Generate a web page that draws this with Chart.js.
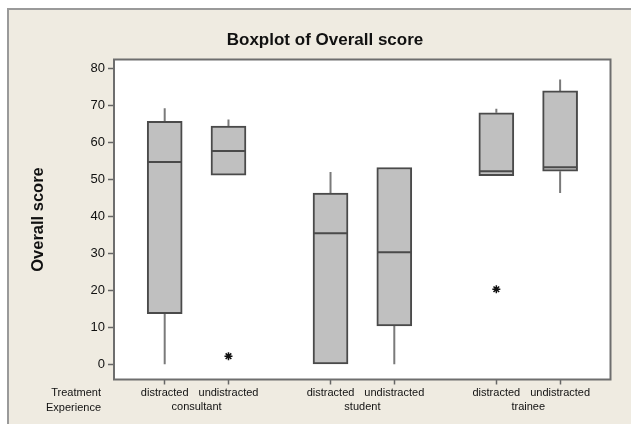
<!DOCTYPE html>
<html><head><meta charset="utf-8">
<script src="https://cdn.jsdelivr.net/npm/chart.js@4.4.1/dist/chart.umd.min.js"></script>
<style>html,body{margin:0;padding:0;background:#fff}#wrap{width:631px;height:424px}</style>
</head><body><div id="wrap"><canvas id="c" width="631" height="424"></canvas></div>
<script>
// ---- data ----
const experiences = ['consultant', 'student', 'trainee'];
const treatments = ['distracted', 'undistracted'];
const whiskerLow  = [0,    51.1, 0,    0,    51.0, 46.3];
const q1          = [13.7, 51.1, 0,    10.4, 51.0, 52.2];
const median      = [54.7, 57.7, 35.4, 30.3, 52.2, 53.3];
const q3          = [65.7, 64.4, 46.3, 53.2, 68.0, 73.9];
const whiskerHigh = [69.2, 66.2, 52.0, 53.2, 69.1, 77.0];
const outlierCat  = [1, 4];
const outlierVal  = [2.2, 20.3];
const yTicks = [0, 10, 20, 30, 40, 50, 60, 70, 80];

// ---- layout helpers ----
const FONT = "'Liberation Sans', Arial, sans-serif";
const GROUP_STRIDE = 2.6;
const nCat = experiences.length * treatments.length;
const pos = i => 1 + Math.floor(i / treatments.length) * GROUP_STRIDE + (i % treatments.length);
const catIdx = Array.from({length: nCat}, (_, i) => i);
const positions = catIdx.map(pos);
const treatLabels = catIdx.map(i => treatments[i % treatments.length]);
const groupCenters = experiences.map((_, g) => (pos(g * 2) + pos(g * 2 + 1)) / 2);
const X_MIN = 0.205, X_MAX = 7.99;

const boxData = catIdx.map(i => ({x: positions[i], y: [q1[i], q3[i]]}));
const medData = catIdx.map(i => ({x: positions[i], y: median[i]}));
const whiskData = [];
catIdx.forEach(i => {
  if (whiskerHigh[i] > q3[i]) whiskData.push({x: positions[i], y: q3[i]}, {x: positions[i], y: whiskerHigh[i]}, {x: positions[i], y: null});
  if (whiskerLow[i] < q1[i]) whiskData.push({x: positions[i], y: whiskerLow[i]}, {x: positions[i], y: q1[i]}, {x: positions[i], y: null});
});
const outData = outlierCat.map((c, k) => ({x: positions[c], y: outlierVal[k]}));

const bgPlugin = {
  id: 'bg',
  beforeDraw(chart) {
    const ctx = chart.ctx, a = chart.chartArea;
    ctx.save();
    ctx.fillStyle = '#ffffff';
    ctx.fillRect(0, 0, chart.width, chart.height);
    ctx.fillStyle = '#efebe1';
    ctx.fillRect(8, 9, chart.width - 8, chart.height - 9);
    ctx.strokeStyle = '#9a9a9a';
    ctx.lineWidth = 2;
    ctx.beginPath();
    ctx.moveTo(8, chart.height); ctx.lineTo(8, 9); ctx.lineTo(chart.width, 9);
    ctx.stroke();
    ctx.fillStyle = '#ffffff';
    ctx.fillRect(a.left, a.top, a.right - a.left, a.bottom - a.top);
    ctx.restore();
  },
  afterDraw(chart) {
    const ctx = chart.ctx, a = chart.chartArea;
    ctx.save();
    ctx.strokeStyle = '#6e6e6e';
    ctx.lineWidth = 2;
    ctx.strokeRect(a.left, a.top, a.right - a.left, a.bottom - a.top);
    ctx.fillStyle = '#111';
    ctx.font = '11px ' + FONT;
    ctx.textAlign = 'right';
    ctx.textBaseline = 'middle';
    ctx.fillText('Treatment', a.left - 13, a.bottom + 13);
    ctx.fillText('Experience', a.left - 13, a.bottom + 28);
    ctx.restore();
  }
};

new Chart(document.getElementById('c'), {
  type: 'bar',
  data: {
    datasets: [
      {type: 'line', data: whiskData, borderColor: '#7a7a7a', borderWidth: 2, pointRadius: 0, spanGaps: false, order: 3, xAxisID: 'x', yAxisID: 'y'},
      {type: 'bar', data: boxData, backgroundColor: '#c0c0c0', borderColor: '#4a4a4a', borderWidth: 2, borderSkipped: false, barThickness: 35, grouped: false, order: 2, xAxisID: 'x', yAxisID: 'y'},
      {type: 'scatter', data: medData, pointStyle: 'line', pointRadius: 17, pointHoverRadius: 17, pointBorderWidth: 2, pointBorderColor: '#4a4a4a', order: 1, xAxisID: 'x', yAxisID: 'y'},
      {type: 'scatter', data: outData, pointStyle: 'star', pointRadius: 4, pointHoverRadius: 4, pointBorderWidth: 1.5, pointBorderColor: '#111', order: 0, xAxisID: 'x', yAxisID: 'y'}
    ]
  },
  options: {
    responsive: false,
    devicePixelRatio: 1,
    animation: false,
    events: [],
    layout: {padding: {left: 39.5, right: 20.5, top: 0, bottom: 10}},
    plugins: {
      legend: {display: false},
      tooltip: {enabled: false},
      title: {display: true, text: 'Boxplot of Overall score', color: '#111',
        font: {family: FONT, size: 17, weight: 'bold'}, padding: {top: 30, bottom: 9.1}}
    },
    scales: {
      x: {
        type: 'linear', position: 'bottom', min: X_MIN, max: X_MAX, offset: false, weight: 0,
        afterBuildTicks: s => { s.ticks = positions.map(v => ({value: v})); },
        ticks: {callback: (v, i) => treatLabels[i], color: '#111', font: {family: FONT, size: 11}, padding: 2, autoSkip: false, maxRotation: 0},
        grid: {offset: false, drawOnChartArea: false, drawTicks: true, tickLength: 5, tickColor: '#666', tickWidth: 1.5},
        border: {display: false},
        afterFit: s => { s.height = 20.5; }
      },
      x2: {
        type: 'linear', position: 'bottom', min: X_MIN, max: X_MAX, offset: false, weight: 1,
        afterBuildTicks: s => { s.ticks = groupCenters.map(v => ({value: v})); },
        ticks: {callback: (v, i) => experiences[i], color: '#111', font: {family: FONT, size: 11}, padding: 0.5, autoSkip: false, maxRotation: 0},
        grid: {display: false, drawTicks: false, offset: false},
        border: {display: false},
        afterFit: s => { s.height = 14; }
      },
      y: {
        type: 'linear', position: 'left', min: -4.1, max: 82.4,
        afterBuildTicks: s => { s.ticks = yTicks.map(v => ({value: v})); },
        ticks: {color: '#111', font: {family: FONT, size: 13}, padding: 3},
        grid: {drawOnChartArea: false, drawTicks: true, tickLength: 6, tickColor: '#666', tickWidth: 1.5},
        border: {display: false},
        title: {display: true, text: 'Overall score', color: '#111', font: {family: FONT, size: 16.5, weight: 'bold'}, padding: {top: -10.5, bottom: 0}},
        afterFit: s => { s.width = 74.5; }
      }
    }
  },
  plugins: [bgPlugin]
});
</script></body></html>
